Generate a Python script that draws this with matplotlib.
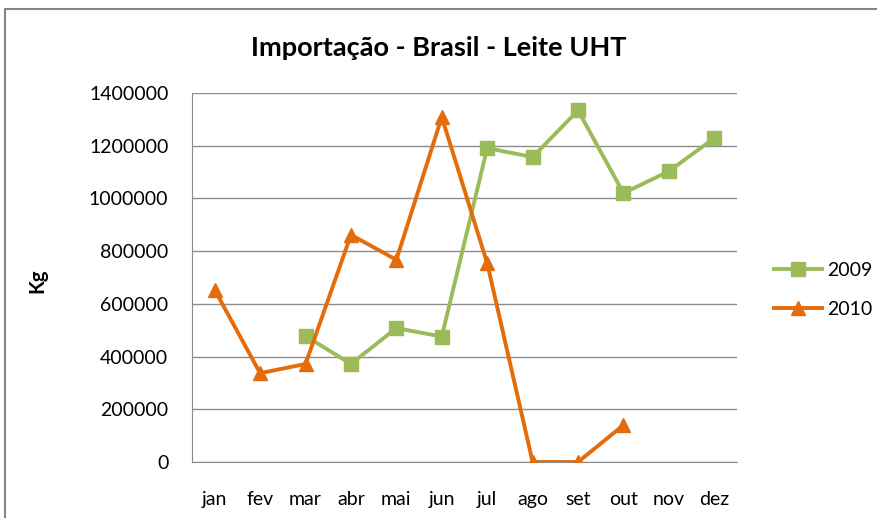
import matplotlib
matplotlib.use("Agg")
import matplotlib.pyplot as plt
import numpy as np
from matplotlib.patches import Rectangle

plt.rcParams['font.family'] = ['Lato', 'DejaVu Sans']

months = ["jan", "fev", "mar", "abr", "mai", "jun", "jul", "ago", "set", "out", "nov", "dez"]
s2009 = [None, None, 478000, 372000, 508000, 476000, 1191000, 1157000, 1334000, 1020000, 1103000, 1229000]
s2010 = [653000, 337000, 372000, 862000, 767000, 1309000, 754000, 0, 0, 140000, None, None]
yticks = [0, 200000, 400000, 600000, 800000, 1000000, 1200000, 1400000]

def arr(v):
    return np.array([np.nan if x is None else x for x in v], dtype=float)

W, H = 877, 518
fig = plt.figure(figsize=(W/100, H/100), dpi=100)
fig.patches.append(Rectangle((5/W, -0.2), 1.2, 1.2 - 9/H, transform=fig.transFigure,
                             fill=False, edgecolor='#868686', linewidth=1.5))

ax = fig.add_axes([192/W, 1 - 462/H, (737-192)/W, (462-93)/H])
x = np.arange(len(months))
ax.plot(x, arr(s2009), color='#9BBB59', linewidth=2.8, marker='s', markersize=10,
        label='2009', zorder=3)
ax.plot(x, arr(s2010), color='#E46C0A', linewidth=2.8, marker='^', markersize=10,
        label='2010', zorder=4)

ax.set_xlim(-0.5, 11.5)
ax.set_ylim(0, 1400000)
ax.set_yticks(yticks)
ax.set_yticklabels([str(v) for v in yticks])
ax.set_xticks(x)
ax.set_xticklabels(months)
ax.yaxis.grid(True, color='#8c8c8c', linewidth=1)
ax.set_axisbelow(True)
for s in ['top', 'right']:
    ax.spines[s].set_visible(False)
for s in ['left', 'bottom']:
    ax.spines[s].set_color('#8c8c8c')
ax.tick_params(axis='both', length=0, labelsize=14)
ax.tick_params(axis='y', pad=17)
ax.tick_params(axis='x', pad=21)
ax.set_ylabel('Kg', fontsize=14.5, fontweight='bold')
ax.yaxis.set_label_coords(-0.265, 0.49)

fig.text(0.5, 1 - 48/H, 'Importação - Brasil - Leite UHT', ha='center', va='center',
         fontsize=19.5, fontweight='bold')

leg = ax.legend(loc='center left', bbox_to_anchor=(1.035, 0.466), frameon=False,
                fontsize=14, handlelength=2.5, labelspacing=1.15, handletextpad=0.25)

fig.savefig('out.png', dpi=100)
